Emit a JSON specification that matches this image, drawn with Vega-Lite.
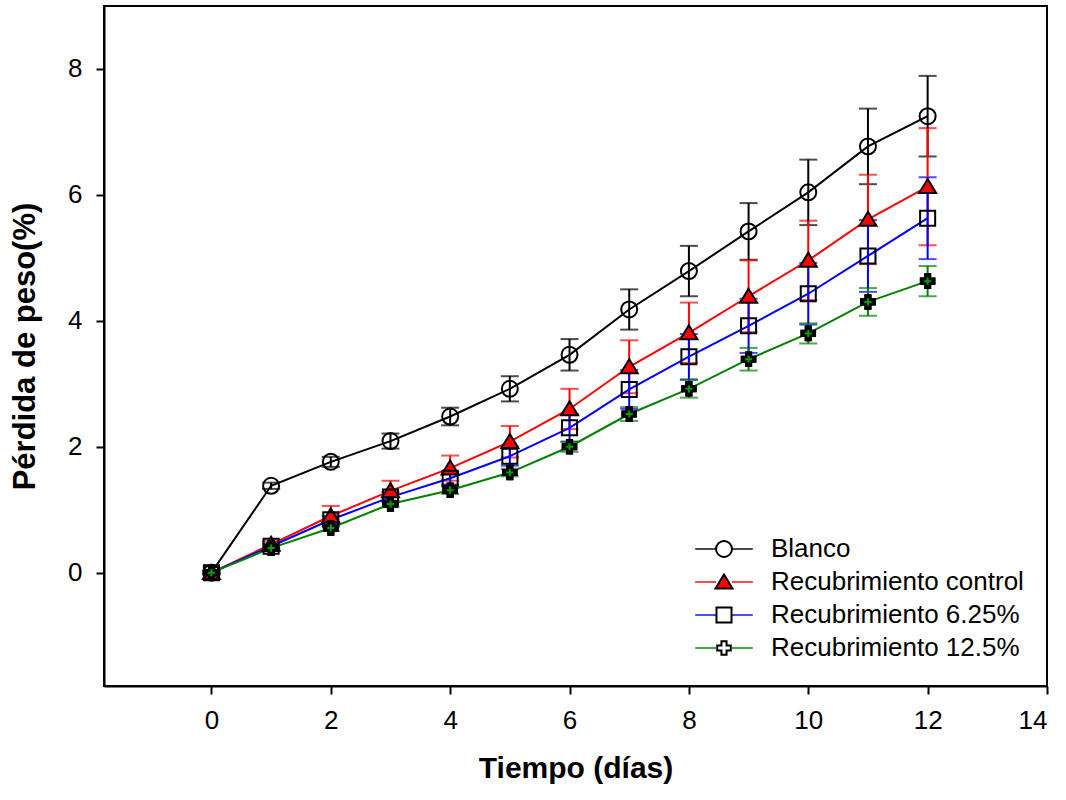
{
  "$schema": "https://vega.github.io/schema/vega-lite/v6.json",
  "width": 943,
  "height": 680,
  "autosize": "none",
  "padding": {"left": 104, "top": 6, "right": 19, "bottom": 114},
  "background": "white",
  "config": {
    "view": {"stroke": "black", "strokeWidth": 2},
    "font": "Liberation Sans",
    "axis": {
      "grid": false,
      "domainColor": "black",
      "domainWidth": 2,
      "tickColor": "black",
      "tickWidth": 2,
      "tickSize": 8,
      "labelFont": "Liberation Sans",
      "labelFontSize": 26,
      "labelColor": "black",
      "titleFont": "Liberation Sans",
      "titleFontWeight": "bold",
      "titleColor": "black"
    }
  },
  "data": {
    "values": [
      {"serie": "Blanco", "dia": 0, "perdida": 0, "err": 0.03},
      {"serie": "Blanco", "dia": 1, "perdida": 1.38, "err": 0.05},
      {"serie": "Blanco", "dia": 2, "perdida": 1.76, "err": 0.08},
      {"serie": "Blanco", "dia": 3, "perdida": 2.09, "err": 0.12},
      {"serie": "Blanco", "dia": 4, "perdida": 2.48, "err": 0.14},
      {"serie": "Blanco", "dia": 5, "perdida": 2.92, "err": 0.2},
      {"serie": "Blanco", "dia": 6, "perdida": 3.46, "err": 0.25},
      {"serie": "Blanco", "dia": 7, "perdida": 4.18, "err": 0.32},
      {"serie": "Blanco", "dia": 8, "perdida": 4.79, "err": 0.4},
      {"serie": "Blanco", "dia": 9, "perdida": 5.42, "err": 0.45},
      {"serie": "Blanco", "dia": 10, "perdida": 6.04, "err": 0.52},
      {"serie": "Blanco", "dia": 11, "perdida": 6.77, "err": 0.6},
      {"serie": "Blanco", "dia": 12, "perdida": 7.25, "err": 0.64},
      {"serie": "Recubrimiento control", "dia": 0, "perdida": 0, "err": 0.03},
      {"serie": "Recubrimiento control", "dia": 1, "perdida": 0.45, "err": 0.05},
      {"serie": "Recubrimiento control", "dia": 2, "perdida": 0.9, "err": 0.16},
      {"serie": "Recubrimiento control", "dia": 3, "perdida": 1.3, "err": 0.16},
      {"serie": "Recubrimiento control", "dia": 4, "perdida": 1.66, "err": 0.2},
      {"serie": "Recubrimiento control", "dia": 5, "perdida": 2.08, "err": 0.25},
      {"serie": "Recubrimiento control", "dia": 6, "perdida": 2.6, "err": 0.32},
      {"serie": "Recubrimiento control", "dia": 7, "perdida": 3.27, "err": 0.42},
      {"serie": "Recubrimiento control", "dia": 8, "perdida": 3.81, "err": 0.48},
      {"serie": "Recubrimiento control", "dia": 9, "perdida": 4.39, "err": 0.57},
      {"serie": "Recubrimiento control", "dia": 10, "perdida": 4.96, "err": 0.63},
      {"serie": "Recubrimiento control", "dia": 11, "perdida": 5.61, "err": 0.71},
      {"serie": "Recubrimiento control", "dia": 12, "perdida": 6.13, "err": 0.93},
      {"serie": "Recubrimiento 6.25%", "dia": 0, "perdida": 0, "err": 0.02},
      {"serie": "Recubrimiento 6.25%", "dia": 1, "perdida": 0.42, "err": 0.04},
      {"serie": "Recubrimiento 6.25%", "dia": 2, "perdida": 0.84, "err": 0.06},
      {"serie": "Recubrimiento 6.25%", "dia": 3, "perdida": 1.2, "err": 0.08},
      {"serie": "Recubrimiento 6.25%", "dia": 4, "perdida": 1.5, "err": 0.1},
      {"serie": "Recubrimiento 6.25%", "dia": 5, "perdida": 1.85, "err": 0.15},
      {"serie": "Recubrimiento 6.25%", "dia": 6, "perdida": 2.3, "err": 0.22},
      {"serie": "Recubrimiento 6.25%", "dia": 7, "perdida": 2.91, "err": 0.31},
      {"serie": "Recubrimiento 6.25%", "dia": 8, "perdida": 3.43, "err": 0.36},
      {"serie": "Recubrimiento 6.25%", "dia": 9, "perdida": 3.92, "err": 0.43},
      {"serie": "Recubrimiento 6.25%", "dia": 10, "perdida": 4.43, "err": 0.49},
      {"serie": "Recubrimiento 6.25%", "dia": 11, "perdida": 5.03, "err": 0.57},
      {"serie": "Recubrimiento 6.25%", "dia": 12, "perdida": 5.63, "err": 0.65},
      {"serie": "Recubrimiento 12.5%", "dia": 0, "perdida": 0, "err": 0.02},
      {"serie": "Recubrimiento 12.5%", "dia": 1, "perdida": 0.39, "err": 0.03},
      {"serie": "Recubrimiento 12.5%", "dia": 2, "perdida": 0.71, "err": 0.05},
      {"serie": "Recubrimiento 12.5%", "dia": 3, "perdida": 1.09, "err": 0.05},
      {"serie": "Recubrimiento 12.5%", "dia": 4, "perdida": 1.31, "err": 0.06},
      {"serie": "Recubrimiento 12.5%", "dia": 5, "perdida": 1.59, "err": 0.06},
      {"serie": "Recubrimiento 12.5%", "dia": 6, "perdida": 2.0, "err": 0.08},
      {"serie": "Recubrimiento 12.5%", "dia": 7, "perdida": 2.52, "err": 0.11},
      {"serie": "Recubrimiento 12.5%", "dia": 8, "perdida": 2.92, "err": 0.14},
      {"serie": "Recubrimiento 12.5%", "dia": 9, "perdida": 3.39, "err": 0.18},
      {"serie": "Recubrimiento 12.5%", "dia": 10, "perdida": 3.8, "err": 0.16},
      {"serie": "Recubrimiento 12.5%", "dia": 11, "perdida": 4.3, "err": 0.22},
      {"serie": "Recubrimiento 12.5%", "dia": 12, "perdida": 4.63, "err": 0.24}
    ]
  },
  "encoding": {
    "x": {
      "field": "dia",
      "type": "quantitative",
      "scale": {"domain": [-1.8, 14], "nice": false, "zero": false},
      "axis": {
        "values": [0, 2, 4, 6, 8, 10, 12, 14],
        "labelPadding": 13,
        "title": "Tiempo (días)",
        "titleFontSize": 30,
        "titlePadding": 20
      }
    },
    "y": {
      "field": "perdida",
      "type": "quantitative",
      "scale": {"domain": [-1.8, 9], "nice": false, "zero": false},
      "axis": {
        "values": [0, 2, 4, 6, 8],
        "labelPadding": 14,
        "title": "Pérdida de peso(%)",
        "titleFontSize": 31,
        "titlePadding": 26
      }
    }
  },
  "layer": [
    {
      "mark": {"type": "errorbar", "thickness": 2, "ticks": {"size": 18}},
      "encoding": {
        "y": {"field": "perdida", "type": "quantitative"},
        "yError": {"field": "err"},
        "color": {
          "field": "serie",
          "type": "nominal",
          "scale": {
            "domain": ["Blanco", "Recubrimiento control", "Recubrimiento 6.25%", "Recubrimiento 12.5%"],
            "range": ["black", "#ff0000", "#0000ff", "#008000"]
          }
        }
      }
    },
    {
      "mark": {"type": "line", "strokeWidth": 2},
      "encoding": {
        "color": {
          "field": "serie",
          "type": "nominal",
          "scale": {
            "domain": ["Blanco", "Recubrimiento control", "Recubrimiento 6.25%", "Recubrimiento 12.5%"],
            "range": ["black", "#ff0000", "#0000ff", "#008000"]
          },
          "legend": {
            "orient": "none",
            "legendX": 607,
            "legendY": 530,
            "title": null,
            "padding": 0,
            "labelFont": "Liberation Sans",
            "labelFontSize": 26,
            "labelColor": "black",
            "labelLimit": 0,
            "labelOffset": 34,
            "rowPadding": 7,
            "symbolSize": 256,
            "symbolStrokeWidth": 2,
            "symbolType": "M-3.6,0H-1M1,0H3.6",
            "zindex": 0
          }
        }
      }
    },
    {
      "transform": [{"calculate": "datum.serie", "as": "grupo"}],
      "mark": {"type": "point", "filled": true, "size": 256, "opacity": 1, "strokeWidth": 0},
      "encoding": {
        "shape": {
          "field": "grupo",
          "type": "nominal",
          "sort": ["Blanco", "Recubrimiento control", "Recubrimiento 6.25%", "Recubrimiento 12.5%"],
          "scale": {
            "range": [
              "circle",
              "M0,-0.95L1.06,0.8L-1.06,0.8Z",
              "M-0.94,-0.94H0.94V0.94H-0.94Z",
              "M-0.32,-0.85H0.32V-0.32H0.85V0.32H0.32V0.85H-0.32V0.32H-0.85V-0.32H-0.32Z"
            ]
          },
          "legend": {
            "orient": "none",
            "legendX": 607,
            "legendY": 530,
            "title": null,
            "padding": 0,
            "labelFont": "Liberation Sans",
            "labelFontSize": 26,
            "labelColor": "black",
            "labelLimit": 0,
            "labelOpacity": 0,
            "labelOffset": 34,
            "rowPadding": 7,
            "symbolSize": 256,
            "symbolFillColor": "transparent",
            "symbolStrokeColor": "black",
            "symbolStrokeWidth": 2,
            "zindex": 2
          }
        },
        "fill": {
          "field": "grupo",
          "type": "nominal",
          "sort": ["Blanco", "Recubrimiento control", "Recubrimiento 6.25%", "Recubrimiento 12.5%"],
          "scale": {"range": ["transparent", "#ff0000", "transparent", "transparent"]},
          "legend": {
            "orient": "none",
            "legendX": 607,
            "legendY": 530,
            "title": null,
            "padding": 0,
            "labelFont": "Liberation Sans",
            "labelFontSize": 26,
            "labelColor": "black",
            "labelLimit": 0,
            "labelOpacity": 0,
            "labelOffset": 34,
            "rowPadding": 7,
            "symbolSize": 256,
            "symbolType": "M0,-0.95L1.06,0.8L-1.06,0.8Z",
            "symbolStrokeColor": "transparent",
            "symbolStrokeWidth": 0,
            "zindex": 1
          }
        }
      }
    },
    {
      "transform": [{"calculate": "datum.serie", "as": "grupo"}],
      "mark": {"type": "point", "filled": false, "size": 256, "stroke": "black", "strokeWidth": 2, "opacity": 1},
      "encoding": {
        "shape": {
          "field": "grupo",
          "type": "nominal",
          "sort": ["Blanco", "Recubrimiento control", "Recubrimiento 6.25%", "Recubrimiento 12.5%"],
          "legend": {
            "orient": "none",
            "legendX": 607,
            "legendY": 530,
            "title": null,
            "padding": 0,
            "labelFont": "Liberation Sans",
            "labelFontSize": 26,
            "labelColor": "black",
            "labelLimit": 0,
            "labelOpacity": 0,
            "labelOffset": 34,
            "rowPadding": 7,
            "symbolSize": 256,
            "symbolFillColor": "transparent",
            "symbolStrokeColor": "black",
            "symbolStrokeWidth": 2,
            "zindex": 2
          }
        }
      }
    },
    {
      "transform": [{"filter": "datum.serie === 'Recubrimiento 12.5%'"}],
      "mark": {"type": "point", "filled": true, "shape": "M-0.32,-0.85H0.32V-0.32H0.85V0.32H0.32V0.85H-0.32V0.32H-0.85V-0.32H-0.32Z", "size": 256, "fill": "black", "stroke": "black", "strokeWidth": 2, "opacity": 1}
    },
    {
      "transform": [{"filter": "datum.serie === 'Recubrimiento 12.5%'"}],
      "mark": {"type": "point", "filled": false, "shape": "M-0.45,0H0.45M0,-0.45V0.45", "size": 256, "stroke": "#00a000", "strokeWidth": 2, "opacity": 1}
    }
  ]
}
